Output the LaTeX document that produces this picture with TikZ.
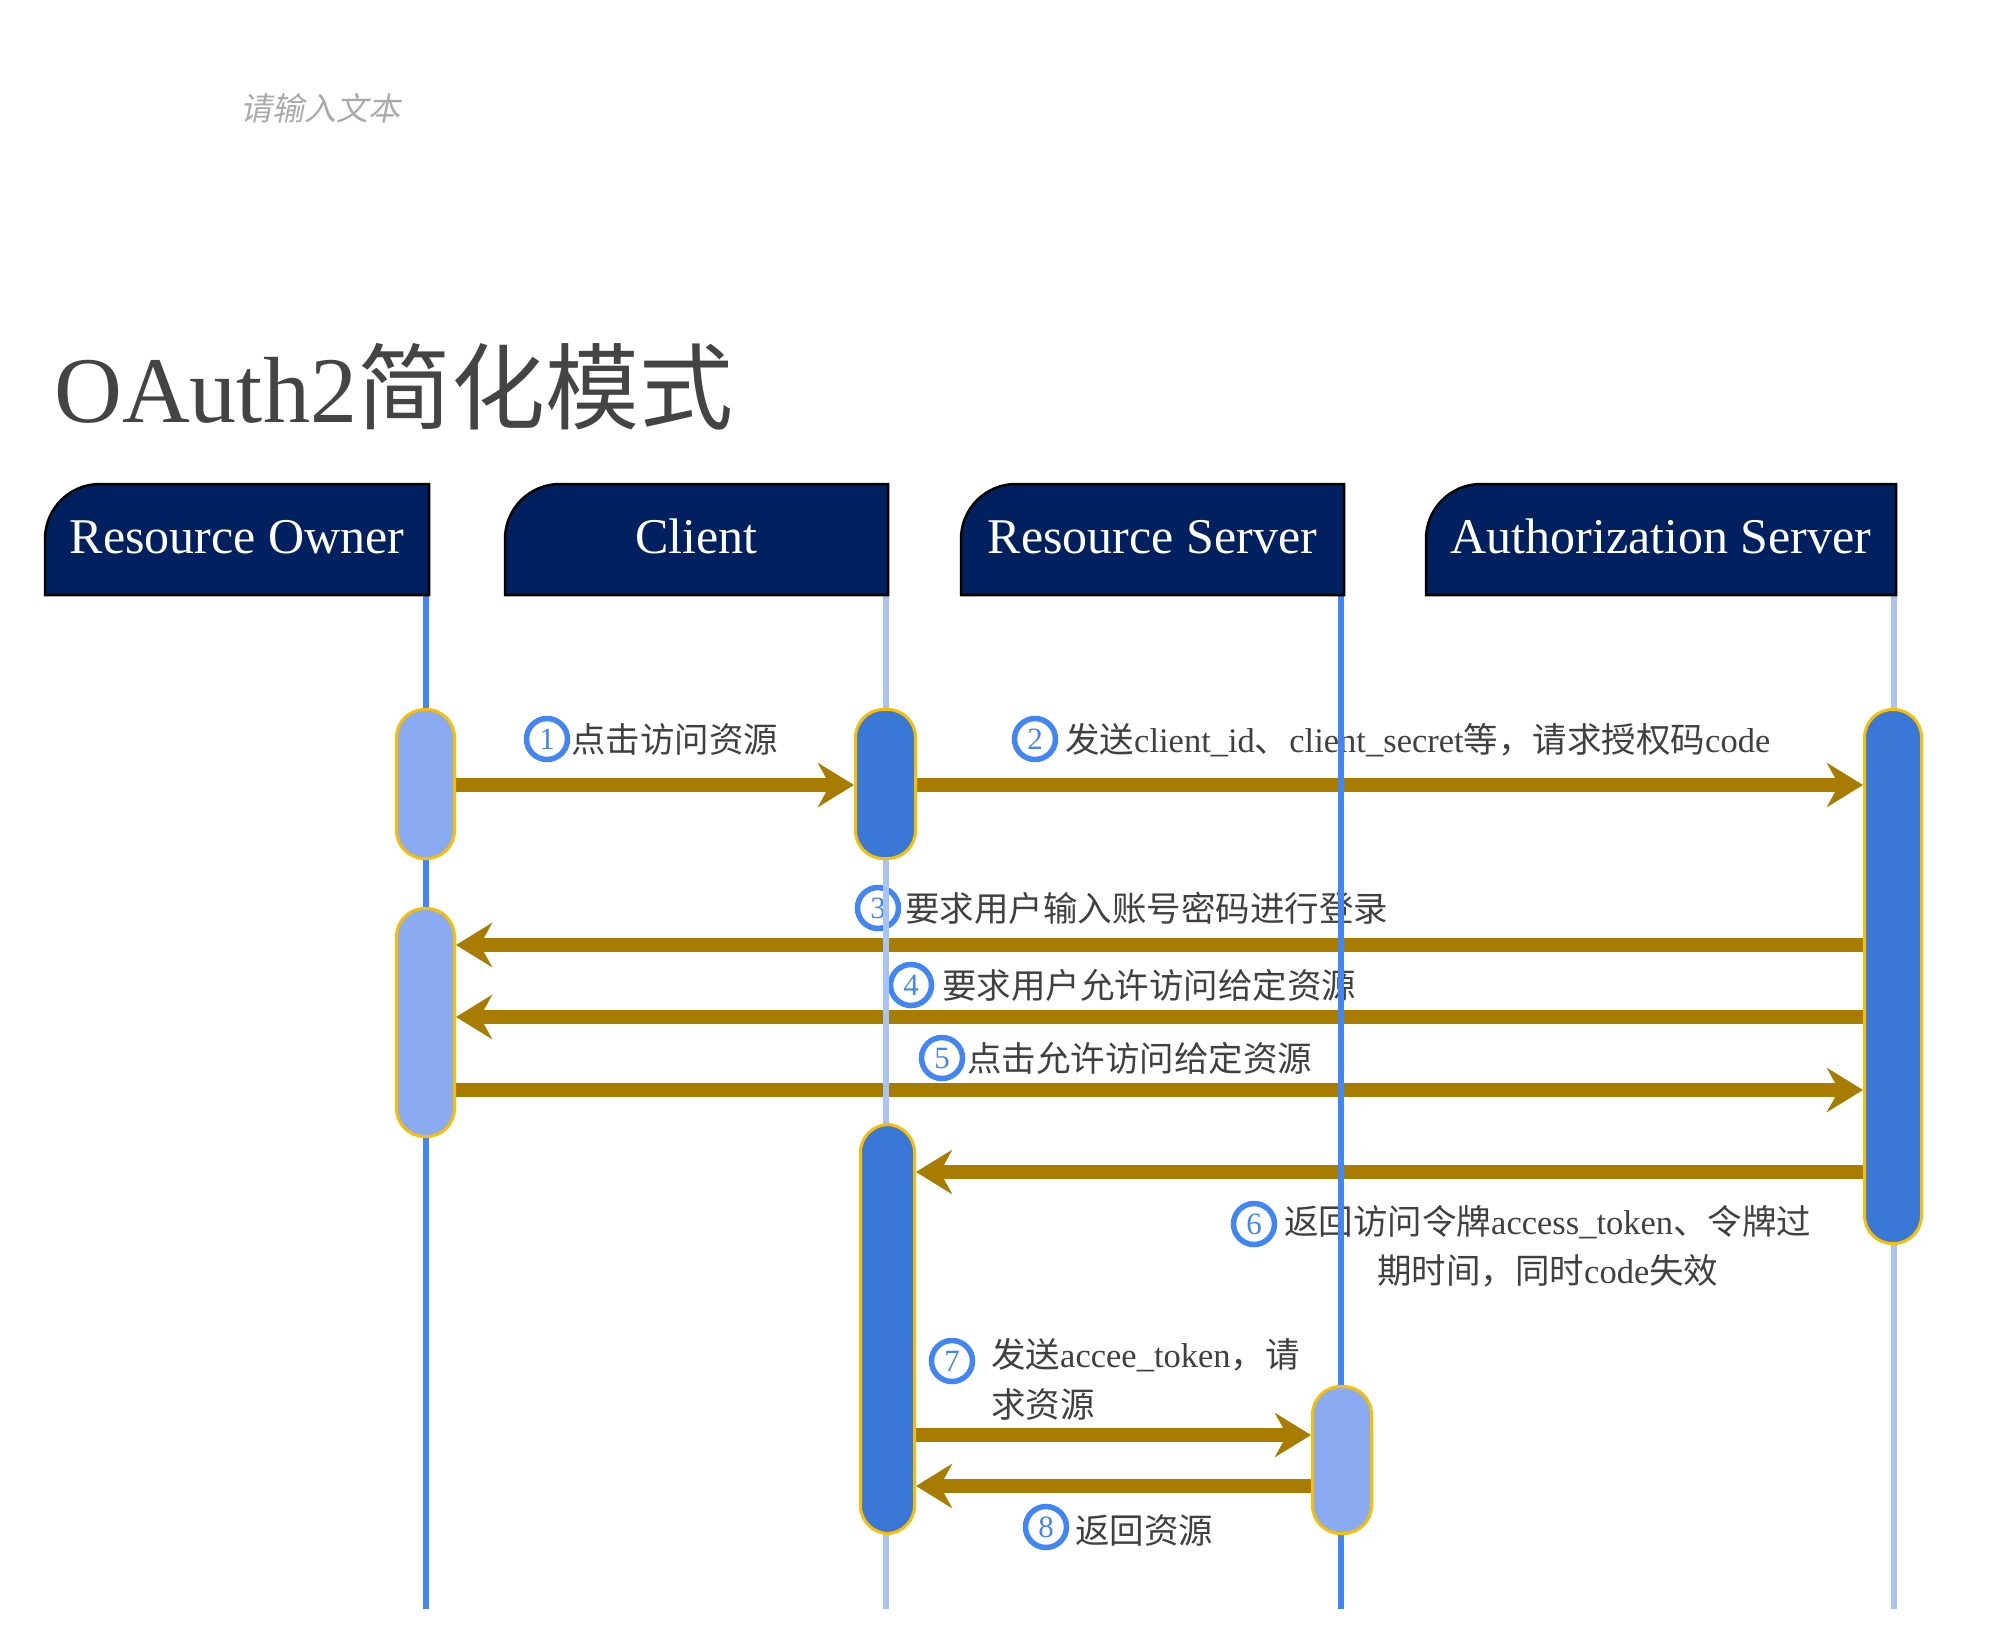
\documentclass[tikz,border=0pt]{standalone}
\usepackage{fontspec}
\setmainfont{Liberation Serif}
\newfontfamily\cjk{Noto Sans CJK SC}
\newfontfamily\cjksl[FakeSlant=0.2]{Noto Sans CJK SC}
\usetikzlibrary{arrows.meta}
\pgfdeclarelayer{bg}
\pgfdeclarelayer{mid}
\pgfsetlayers{bg,mid,main}
\definecolor{cHdr}{RGB}{0,32,96}
\definecolor{cLifeD}{RGB}{66,133,244}
\definecolor{cLifeL}{RGB}{168,196,245}
\definecolor{cActD}{RGB}{58,120,216}
\definecolor{cActL}{RGB}{138,170,242}
\definecolor{cActB}{RGB}{250,190,0}
\definecolor{cArrow}{RGB}{168,124,0}
\definecolor{cNum}{RGB}{66,133,244}
\definecolor{cTxt}{RGB}{64,64,64}
\definecolor{cTitle}{RGB}{68,68,68}
\definecolor{cPh}{RGB}{170,170,170}
\begin{document}
\begin{tikzpicture}[x=1pt,y=-1pt,
  hdrbox/.style={fill=cHdr, draw=black, line width=2.5pt},
  hdrtext/.style={text=white, font=\fontsize{50}{60}\selectfont, inner sep=0pt, anchor=base},
  actbox/.style={draw=cActB, line width=3pt, inner sep=0pt, rounded corners=28pt},
  actdark/.style={actbox, fill=cActD},
  actlight/.style={actbox, fill=cActL},
  msg/.style={draw=cArrow, line width=14pt, -{Stealth[length=36pt,width=44pt,inset=12pt]}},
  lifedark/.style={draw=cLifeD, line width=6pt},
  lifelight/.style={draw=cLifeL, line width=6pt},
  numc/.style={circle, draw=cNum, line width=5.5pt, minimum size=41pt, inner sep=0pt, text=cNum, font=\fontsize{31}{31}\selectfont},
  lbl/.style={anchor=base west, inner sep=0pt, text=cTxt, font=\fontsize{34.5}{40}\selectfont}
]
\useasboundingbox (0,0) rectangle (1998,1644);

% placeholder and title
\node[anchor=base west, inner sep=0pt, text=cPh, font=\cjksl\fontsize{32}{32}\selectfont] (ph) at (240,120) {请输入文本};
\node[anchor=base west, inner sep=0pt, text=cTitle, font=\fontsize{94}{100}\selectfont] (title) at (54,422) {OAuth2{\cjk 简化模式}};

% header boxes
\draw[hdrbox] (45,595) -- (45,539) .. controls (45,508.6) and (69.6,484) .. (100,484) -- (429,484) -- (429,595) -- cycle;
\draw[hdrbox] (505,595) -- (505,539) .. controls (505,508.6) and (529.6,484) .. (560,484) -- (888,484) -- (888,595) -- cycle;
\draw[hdrbox] (961,595) -- (961,539) .. controls (961,508.6) and (985.6,484) .. (1016,484) -- (1344,484) -- (1344,595) -- cycle;
\draw[hdrbox] (1426,595) -- (1426,539) .. controls (1426,508.6) and (1450.6,484) .. (1481,484) -- (1896,484) -- (1896,595) -- cycle;
\node[hdrtext] (hRO) at (237,553) {Resource Owner};
\node[hdrtext] (hCL) at (696.5,553) {Client};
\node[hdrtext] (hRS) at (1152.5,553) {Resource Server};
\node[hdrtext] (hAS) at (1661,553) {Authorization Server};

% lifeline end points
\coordinate (ltRO) at (426,595);  \coordinate (lbRO) at (426,1609);
\coordinate (ltCL) at (886,595);  \coordinate (lbCL) at (886,1609);
\coordinate (ltRS) at (1341,595); \coordinate (lbRS) at (1341,1609);
\coordinate (ltAS) at (1894,595); \coordinate (lbAS) at (1894,1609);

% activation boxes
\node[actlight, minimum width=58pt, minimum height=149pt] (ro1) at (425.5,784) {};
\node[actdark,  minimum width=60pt, minimum height=149pt] (cl1) at (885.5,784) {};
\node[actdark,  minimum width=57pt, minimum height=534pt] (as1) at (1893,976.5) {};
\node[actlight, minimum width=58pt, minimum height=228pt] (ro2) at (425.5,1022.5) {};
\node[actdark,  minimum width=54pt, minimum height=409pt] (cl2) at (887.5,1329) {};
\node[actlight, minimum width=59pt, minimum height=147pt] (rs1) at (1342,1460) {};

% rows
\coordinate (y1) at (0,785);
\coordinate (y3) at (0,945);
\coordinate (y4) at (0,1017);
\coordinate (y5) at (0,1090);
\coordinate (y6) at (0,1172);
\coordinate (y7) at (0,1435);
\coordinate (y8) at (0,1486);

\begin{pgfonlayer}{bg}
\draw[msg] (ro1.east |- y1) -- (cl1.west |- y1);
\draw[msg] (cl1.east |- y1) -- (as1.west |- y1);
\draw[msg] (as1.west |- y3) -- (ro2.east |- y3);
\draw[msg] (as1.west |- y4) -- (ro2.east |- y4);
\draw[msg] (ro2.east |- y5) -- (as1.west |- y5);
\draw[msg] (as1.west |- y6) -- (cl2.east |- y6);
\draw[msg] (cl2.east |- y7) -- (rs1.west |- y7);
\draw[msg] (rs1.west |- y8) -- (cl2.east |- y8);

\node[numc] (n1) at (547,739) {1};
\node[lbl] (l1) at (571,752) {\cjk 点击访问资源};
\node[numc] (n2) at (1035,739) {2};
\node[lbl] (l2) at (1065,752) {{\cjk 发送}client\_id{\cjk 、}client\_secret{\cjk 等，请求授权码}code};
\node[numc] (n3) at (878,908) {3};
\node[lbl] (l3) at (905,921) {\cjk 要求用户输入账号密码进行登录};
\node[numc] (n4) at (911,985) {4};
\node[lbl] (l4) at (942,998) {\cjk 要求用户允许访问给定资源};
\node[numc] (n5) at (942,1058) {5};
\node[lbl] (l5) at (967,1071) {\cjk 点击允许访问给定资源};
\node[numc] (n6) at (1254,1224) {6};
\node[lbl] (l6a) at (1284,1234) {{\cjk 返回访问令牌}access\_token{\cjk 、令牌过}};
\node[lbl] (l6b) at (1377,1283) {{\cjk 期时间，同时}code{\cjk 失效}};
\node[numc] (n7) at (952,1361) {7};
\node[lbl] (l7a) at (991,1367) {{\cjk 发送}accee\_token{\cjk ，请}};
\node[lbl] (l7b) at (991,1417) {\cjk 求资源};
\node[numc] (n8) at (1046,1527) {8};
\node[lbl] (l8) at (1075,1543) {\cjk 返回资源};
\end{pgfonlayer}

\begin{pgfonlayer}{mid}
\draw[lifedark]  (ltRO) -- (lbRO);
\draw[lifelight] (ltCL) -- (lbCL);
\draw[lifedark]  (ltRS) -- (lbRS);
\draw[lifelight] (ltAS) -- (lbAS);
\end{pgfonlayer}
\end{tikzpicture}
\end{document}
